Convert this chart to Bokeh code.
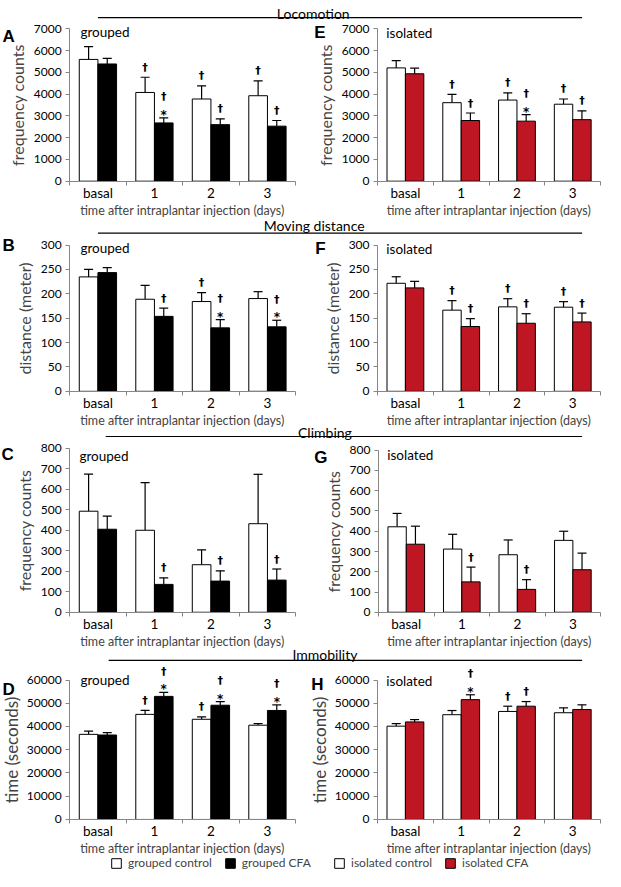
import numpy as np
from bokeh.plotting import figure
from bokeh.core.properties import value
from bokeh.models import (Range1d, FixedTicker, SingleIntervalTicker, ColumnDataSource,
                          Whisker, TeeHead, Label, Legend, LegendItem, LinearAxis)
from bokeh.embed import file_html
from bokeh.resources import INLINE

FONT = "Lato"
RED = "#BE1622"
AXIS_GRAY = "#868686"

categories = ["basal", "1", "2", "3"]
x_title = "time after intraplantar injection (days)"

# ---- Locomotion (frequency counts) ----
loco_grp_ctrl = [5600, 4080, 3780, 3930]
loco_grp_ctrl_err = [590, 700, 600, 680]
loco_grp_cfa = [5390, 2680, 2600, 2530]
loco_grp_cfa_err = [260, 230, 270, 260]
loco_iso_ctrl = [5210, 3610, 3730, 3540]
loco_iso_ctrl_err = [330, 380, 330, 240]
loco_iso_cfa = [4940, 2790, 2760, 2830]
loco_iso_cfa_err = [255, 345, 300, 405]

# ---- Moving distance (meter) ----
dist_grp_ctrl = [234.6, 188.8, 184.1, 190.2]
dist_grp_ctrl_err = [15.5, 28.3, 18.2, 14.1]
dist_grp_cfa = [243.4, 153.7, 130.1, 132.2]
dist_grp_cfa_err = [10.1, 16.9, 16.9, 13.5]
dist_iso_ctrl = [221.5, 166.4, 173.2, 172.5]
dist_iso_ctrl_err = [13.4, 19.5, 16.7, 11.4]
dist_iso_cfa = [212.1, 132.9, 139.6, 142.3]
dist_iso_cfa_err = [13.4, 16.1, 19.5, 18.1]

# ---- Climbing (frequency counts) ----
climb_grp_ctrl = [493, 400, 232, 432]
climb_grp_ctrl_err = [181, 232, 72, 241]
climb_grp_cfa = [405, 136, 152, 157]
climb_grp_cfa_err = [64, 32, 50, 54]
climb_iso_ctrl = [422, 312, 284, 355]
climb_iso_ctrl_err = [66, 73, 73, 45]
climb_iso_cfa = [336, 150, 113, 210]
climb_iso_cfa_err = [89, 73, 48, 82]

# ---- Immobility (seconds) ----
imm_grp_ctrl = [36620, 45210, 43100, 40560]
imm_grp_ctrl_err = [1400, 1700, 1000, 700]
imm_grp_cfa = [36340, 52960, 49150, 46900]
imm_grp_cfa_err = [1000, 1700, 1550, 2400]
imm_iso_ctrl = [40140, 45070, 46480, 45920]
imm_iso_ctrl_err = [1100, 1800, 2250, 2100]
imm_iso_cfa = [41970, 51550, 48730, 47320]
imm_iso_cfa_err = [1000, 2100, 2000, 2000]

# ---- significance marks: dagger (vs basal), star (vs control) ----
dag_A_ctrl = [0, 1, 1, 1]; star_A_ctrl = [0, 0, 0, 0]
dag_A_cfa = [0, 1, 1, 1]; star_A_cfa = [0, 1, 0, 0]
dag_E_ctrl = [0, 1, 1, 1]; star_E_ctrl = [0, 0, 0, 0]
dag_E_cfa = [0, 1, 1, 1]; star_E_cfa = [0, 0, 1, 0]
dag_B_ctrl = [0, 0, 1, 0]; star_B_ctrl = [0, 0, 0, 0]
dag_B_cfa = [0, 1, 1, 1]; star_B_cfa = [0, 0, 1, 1]
dag_F_ctrl = [0, 1, 1, 1]; star_F_ctrl = [0, 0, 0, 0]
dag_F_cfa = [0, 1, 1, 1]; star_F_cfa = [0, 0, 0, 0]
dag_C_ctrl = [0, 0, 0, 0]; star_C_ctrl = [0, 0, 0, 0]
dag_C_cfa = [0, 1, 1, 1]; star_C_cfa = [0, 0, 0, 0]
dag_G_ctrl = [0, 0, 0, 0]; star_G_ctrl = [0, 0, 0, 0]
dag_G_cfa = [0, 1, 1, 0]; star_G_cfa = [0, 0, 0, 0]
dag_D_ctrl = [0, 1, 1, 0]; star_D_ctrl = [0, 0, 0, 0]
dag_D_cfa = [0, 1, 1, 1]; star_D_cfa = [0, 1, 1, 1]
dag_H_ctrl = [0, 0, 1, 0]; star_H_ctrl = [0, 0, 0, 0]
dag_H_cfa = [0, 1, 1, 0]; star_H_cfa = [0, 1, 0, 0]

# ---- layout (in reference-page pixels, 621 x 887) ----
PAGE_W, PAGE_H = 621, 887
FIG_W, FIG_H = 605, 871
BAR_W = 0.33

# panel frame boxes: (left, right, top(ymax), bottom(0))
BOX = {"A": (71, 303, 29, 184), "E": (387, 616, 29, 184),
       "B": (71, 303, 249, 398), "F": (387, 616, 249, 398),
       "C": (71, 303, 456, 623), "G": (388, 616, 458, 623),
       "D": (71, 303, 692, 834), "H": (387, 616, 692, 834)}
LETTER_POS = {"A": (2, 37), "E": (322, 33), "B": (2, 250), "F": (323, 253),
              "C": (1, 462), "G": (322, 465), "D": (2, 702), "H": (319, 697)}
GROUP_POS = {"A": (82, 32), "E": (396, 33), "B": (82, 252), "F": (396, 253),
             "C": (81, 464), "G": (397, 463), "D": (82, 692), "H": (396, 693)}
# headers: text, text centre x, baseline y, rule x0, rule x1, rule y
HEADERS = [("Locomotion", 321, 13.5, 100, 597, 17.5),
           ("Moving distance", 322, 229, 100, 597, 237),
           ("Climbing", 333, 440, 108, 597, 444),
           ("Immobility", 333, 666, 111, 597, 672)]

p = figure(width=FIG_W, height=FIG_H, x_range=Range1d(0, PAGE_W), y_range=Range1d(PAGE_H, 0),
           min_border=0, toolbar_location=None, output_backend="svg",
           outline_line_color=None, x_axis_location=None, y_axis_location=None)
p.grid.visible = False

extra_x, extra_y = {}, {}


def add_panel(key, ctrl, ctrl_err, cfa, cfa_err, marks, ymax, step, ylabel, ylabel_size,
              group_text, cfa_color, ylabel_standoff=4):
    x0, x1, yt, yb = BOX[key]
    n = len(categories)
    upp = n / (x1 - x0)
    vpp = ymax / (yb - yt)
    kx, ky = key + "x", key + "y"
    extra_x[kx] = Range1d(-x0 * upp, n + (PAGE_W - x1) * upp)
    extra_y[ky] = Range1d(-(PAGE_H - yb) * vpp, ymax + yt * vpp)
    rn = dict(x_range_name=kx, y_range_name=ky)

    centers = np.arange(n) + 0.5
    xa = LinearAxis(fixed_location=0, bounds=(0, n), **rn)
    xa.ticker = FixedTicker(ticks=list(centers), minor_ticks=list(range(n + 1)))
    xa.major_label_overrides = {float(c): lab for c, lab in zip(centers, categories)}
    xa.major_tick_out = 0
    xa.major_tick_in = 0
    xa.minor_tick_out = 4
    xa.minor_tick_in = 0
    xa.major_label_standoff = 0
    xa.axis_label = x_title
    xa.axis_label_standoff = -2
    xa.axis_label_text_font = FONT
    xa.axis_label_text_font_size = "12.5px"
    xa.axis_label_text_font_style = "normal"
    xa.major_label_text_font = FONT
    xa.major_label_text_font_size = "13.5px"
    xa.major_label_text_color = "black"
    xa.axis_line_color = AXIS_GRAY
    xa.minor_tick_line_color = AXIS_GRAY
    p.add_layout(xa, "below")

    ya = LinearAxis(fixed_location=0, bounds=(0, ymax), **rn)
    ya.ticker = SingleIntervalTicker(interval=step, num_minor_ticks=0)
    ya.major_tick_out = 4
    ya.major_tick_in = 0
    ya.minor_tick_out = 0
    ya.minor_tick_in = 0
    ya.major_label_standoff = 4
    ya.axis_label = ylabel
    ya.axis_label_standoff = ylabel_standoff
    ya.axis_label_text_font = FONT
    ya.axis_label_text_font_size = ylabel_size
    ya.axis_label_text_font_style = "normal"
    ya.major_label_text_font = FONT
    ya.major_label_text_font_size = "12px"
    ya.major_label_text_color = "black"
    ya.axis_line_color = AXIS_GRAY
    ya.major_tick_line_color = AXIS_GRAY
    p.add_layout(ya, "left")

    xc = centers - BAR_W / 2
    xf = centers + BAR_W / 2
    src_c = ColumnDataSource(dict(x=xc, top=ctrl, upper=np.array(ctrl) + np.array(ctrl_err)))
    src_f = ColumnDataSource(dict(x=xf, top=cfa, upper=np.array(cfa) + np.array(cfa_err)))
    r_c = p.vbar(x="x", top="top", width=BAR_W, source=src_c, fill_color="white",
                 line_color="black", line_width=1, **rn)
    r_f = p.vbar(x="x", top="top", width=BAR_W, source=src_f, fill_color=cfa_color,
                 line_color="black", line_width=1, **rn)
    for s in (src_c, src_f):
        p.add_layout(Whisker(source=s, base="x", upper="upper", lower="top",
                             dimension="height", line_color="black", line_width=1.2,
                             upper_head=TeeHead(size=9, line_color="black", line_width=1.2),
                             lower_head=None, **rn))

    dc, sc, dfl, sfl = marks
    star_x, star_y = [], []
    dag_x, dag_y, dag_off = [], [], []
    for xs, src, dag, star in ((xc, src_c, dc, sc), (xf, src_f, dfl, sfl)):
        ups = src.data["upper"]
        for i in range(n):
            if star[i]:
                star_x.append(xs[i]); star_y.append(ups[i])
            if dag[i]:
                dag_x.append(xs[i]); dag_y.append(ups[i]); dag_off.append(-21 if star[i] else -10)
    p.text(x="x", y="y", text="t", y_offset=-3,
           source=ColumnDataSource(dict(x=star_x, y=star_y, t=["*"] * len(star_x))),
           text_align="center", text_baseline="alphabetic", text_font=value("DejaVu Sans"),
           text_font_size="12px", text_font_style="bold", text_color="black", **rn)
    p.text(x="x", y="y", text="t", y_offset="off",
           source=ColumnDataSource(dict(x=dag_x, y=dag_y, off=dag_off,
                                        t=["\u2020"] * len(dag_x))),
           text_align="center", text_baseline="alphabetic", text_font=value("DejaVu Sans"),
           text_font_size="11px", text_font_style="bold", text_color="black", **rn)

    gx, gy = GROUP_POS[key]
    p.add_layout(Label(x=gx, y=gy, text=group_text, text_baseline="alphabetic",
                       text_font=FONT, text_font_size="13.5px", text_color="black"))
    lx, ly = LETTER_POS[key]
    p.add_layout(Label(x=lx, y=ly, text=key, text_baseline="alphabetic",
                       text_font="Liberation Sans", text_font_style="bold",
                       text_font_size="17px", text_color="black"))
    return r_c, r_f


add_panel("A", loco_grp_ctrl, loco_grp_ctrl_err, loco_grp_cfa, loco_grp_cfa_err,
          (dag_A_ctrl, star_A_ctrl, dag_A_cfa, star_A_cfa), 7000, 1000,
          "frequency counts", "16px", "grouped", "black")
add_panel("E", loco_iso_ctrl, loco_iso_ctrl_err, loco_iso_cfa, loco_iso_cfa_err,
          (dag_E_ctrl, star_E_ctrl, dag_E_cfa, star_E_cfa), 7000, 1000,
          "frequency counts", "16px", "isolated", RED)
add_panel("B", dist_grp_ctrl, dist_grp_ctrl_err, dist_grp_cfa, dist_grp_cfa_err,
          (dag_B_ctrl, star_B_ctrl, dag_B_cfa, star_B_cfa), 300, 50,
          "distance (meter)", "16px", "grouped", "black")
add_panel("F", dist_iso_ctrl, dist_iso_ctrl_err, dist_iso_cfa, dist_iso_cfa_err,
          (dag_F_ctrl, star_F_ctrl, dag_F_cfa, star_F_cfa), 300, 50,
          "distance (meter)", "16px", "isolated", RED)
add_panel("C", climb_grp_ctrl, climb_grp_ctrl_err, climb_grp_cfa, climb_grp_cfa_err,
          (dag_C_ctrl, star_C_ctrl, dag_C_cfa, star_C_cfa), 800, 100,
          "frequency counts", "16px", "grouped", "black")
add_panel("G", climb_iso_ctrl, climb_iso_ctrl_err, climb_iso_cfa, climb_iso_cfa_err,
          (dag_G_ctrl, star_G_ctrl, dag_G_cfa, star_G_cfa), 800, 100,
          "frequency counts", "16px", "isolated", RED)
rD_c, rD_f = add_panel("D", imm_grp_ctrl, imm_grp_ctrl_err, imm_grp_cfa, imm_grp_cfa_err,
                       (dag_D_ctrl, star_D_ctrl, dag_D_cfa, star_D_cfa), 60000, 10000,
                       "time (seconds)", "17px", "grouped", "black", 2)
rH_c, rH_f = add_panel("H", imm_iso_ctrl, imm_iso_ctrl_err, imm_iso_cfa, imm_iso_cfa_err,
                       (dag_H_ctrl, star_H_ctrl, dag_H_cfa, star_H_cfa), 60000, 10000,
                       "time (seconds)", "17px", "isolated", RED, 2)

p.extra_x_ranges = extra_x
p.extra_y_ranges = extra_y

# section headers
hsrc = ColumnDataSource(dict(x0=[h[3] for h in HEADERS], x1=[h[4] for h in HEADERS],
                             y=[h[5] for h in HEADERS]))
p.segment(x0="x0", y0="y", x1="x1", y1="y", source=hsrc, line_color="black", line_width=1.2)
for text, cx, by, _, _, _ in HEADERS:
    p.add_layout(Label(x=cx, y=by, text=text, text_align="center", text_baseline="alphabetic",
                       text_font=FONT, text_font_size="14px", text_color="black"))


def make_legend(items, loc):
    return Legend(items=items, location=loc, orientation="horizontal", glyph_width=12,
                  glyph_height=12, label_height=12, label_standoff=6, spacing=12,
                  padding=0, margin=0, border_line_color=None, background_fill_alpha=0,
                  label_text_font=FONT, label_text_font_size="12px")


p.add_layout(make_legend([LegendItem(label="grouped control", renderers=[rD_c]),
                          LegendItem(label="grouped CFA", renderers=[rD_f])], (110, 1)))
p.add_layout(make_legend([LegendItem(label="isolated control", renderers=[rH_c]),
                          LegendItem(label="isolated CFA", renderers=[rH_f])], (333, 1)))

open("out.html", "w").write(file_html(p, INLINE))
